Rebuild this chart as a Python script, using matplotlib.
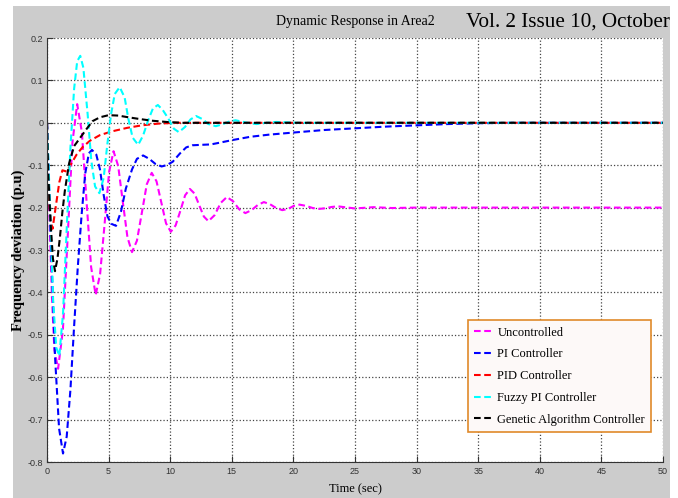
import matplotlib
matplotlib.use("Agg")
import matplotlib.pyplot as plt
from matplotlib.patches import Rectangle
from matplotlib.ticker import FuncFormatter

# === Data ===
t_unc = [0, 0.2, 0.4, 0.6, 0.9, 1.29, 1.68, 2.06, 2.45, 2.83, 3.2, 3.58, 3.95,
         4.31, 4.68, 5.04, 5.4, 5.78, 6.15, 6.53, 6.9, 7.3, 7.7, 8.1, 8.5,
         8.89, 9.28, 9.66, 10.05, 10.44, 10.83, 11.21, 11.6, 11.98, 12.35, 12.73,
         13.1, 13.6, 14.1, 14.6, 15.1, 15.6, 16.1, 16.6, 17.1, 17.6, 18.1, 18.6,
         19.1, 19.57, 20.03, 20.5, 21.03, 21.57, 22.1, 22.6, 23.1, 23.6, 25.0,
         26.5, 28.0, 30.0, 50.0]
v_unc = [0, -0.222, -0.41, -0.536, -0.58, -0.489, -0.268, -0.047, 0.044, -0.022,
         -0.181, -0.340, -0.406, -0.357, -0.237, -0.116, -0.067, -0.102, -0.186,
         -0.270, -0.305, -0.278, -0.212, -0.145, -0.118, -0.138, -0.188, -0.237,
         -0.257, -0.242, -0.207, -0.171, -0.156, -0.167, -0.194, -0.221, -0.232,
         -0.218, -0.189, -0.175, -0.185, -0.204, -0.213, -0.206, -0.194, -0.187,
         -0.192, -0.201, -0.206, -0.203, -0.196, -0.193, -0.196, -0.201, -0.203,
         -0.2015, -0.1985, -0.197, -0.202, -0.199, -0.201, -0.2, -0.2]

t_pi = [0, 0.33, 0.65, 0.98, 1.3, 1.6, 1.9, 2.2, 2.5, 2.8, 3.1, 3.4, 3.65, 4.0,
        4.3, 4.6, 4.9, 5.2, 5.6, 6.0, 6.4, 6.9, 7.3, 7.8, 8.3, 8.8, 9.3, 9.7,
        10.2, 10.8, 11.3, 11.8, 12.5, 13.3, 14.0, 15.0, 16.5, 18.0, 20.0, 22.5,
        25.0, 27.5, 30.0, 32.5, 35.0, 38.0, 50.0]
v_pi = [0, -0.298, -0.551, -0.721, -0.78, -0.74, -0.63, -0.48, -0.34, -0.22,
        -0.12, -0.072, -0.064, -0.075, -0.11, -0.17, -0.22, -0.238, -0.243,
        -0.21, -0.155, -0.11, -0.085, -0.077, -0.085, -0.097, -0.103, -0.1,
        -0.092, -0.072, -0.058, -0.053, -0.052, -0.051, -0.047, -0.041, -0.033,
        -0.028, -0.023, -0.017, -0.013, -0.009, -0.006, -0.003, -0.001, 0, 0]

t_pid = [0, 0.05, 0.15, 0.3, 0.45, 0.7, 1.0, 1.25, 1.6, 2.0, 2.4, 2.9, 3.5,
         4.3, 5.3, 6.5, 7.7, 9.0, 10.5, 50.0]
v_pid = [0, -0.1, -0.18, -0.23, -0.25, -0.2, -0.14, -0.112, -0.115, -0.095,
         -0.075, -0.057, -0.042, -0.029, -0.02, -0.012, -0.006, -0.002, 0, 0]

t_fuzzy = [0, 0.25, 0.5, 0.75, 1.0, 1.3, 1.6, 1.9, 2.2, 2.45, 2.7, 2.95, 3.3,
           3.6, 3.9, 4.25, 4.6, 4.9, 5.2, 5.5, 5.9, 6.3, 6.6, 6.95, 7.4, 7.8,
           8.2, 8.6, 9.0, 9.4, 9.85, 10.3, 10.7, 11.2, 11.65, 12.1, 12.6, 13.1,
           13.7, 14.2, 14.8, 15.3, 16.1, 17.0, 17.8, 18.6, 20.5, 50.0]
v_fuzzy = [0, -0.2, -0.42, -0.53, -0.55, -0.45, -0.25, -0.06, 0.08, 0.145,
           0.158, 0.13, 0.02, -0.09, -0.15, -0.166, -0.13, -0.05, 0.02, 0.068,
           0.084, 0.06, 0.01, -0.035, -0.052, -0.03, 0.005, 0.034, 0.042, 0.03,
           0.01, -0.014, -0.022, -0.01, 0.008, 0.016, 0.009, -0.003, -0.008,
           -0.004, 0.003, 0.006, 0.001, -0.003, 0.0, 0.002, 0, 0]

t_ga = [0, 0.1, 0.3, 0.48, 0.65, 0.85, 1.05, 1.25, 1.45, 1.8, 2.2, 2.7, 3.2,
        3.7, 4.3, 5.0, 5.8, 6.6, 7.5, 8.5, 9.7, 11.0, 50.0]
v_ga = [0, -0.12, -0.24, -0.32, -0.35, -0.32, -0.27, -0.21, -0.16, -0.095,
        -0.055, -0.035, -0.015, 0.004, 0.013, 0.018, 0.017, 0.013, 0.009,
        0.005, 0.002, 0.0, 0]

labels = ["Uncontrolled", "PI Controller", "PID Controller",
          "Fuzzy PI Controller", "Genetic Algorithm Controller"]
colors = ["#ff00ff", "#0000ff", "#ff0000", "#00ffff", "#000000"]

x_ticks = list(range(0, 51, 5))
y_ticks = [-0.8, -0.7, -0.6, -0.5, -0.4, -0.3, -0.2, -0.1, 0, 0.1, 0.2]

# === Figure ===
fig = plt.figure(figsize=(6.78, 4.98), dpi=100)
fig.patch.set_facecolor("white")
fig.patches.append(Rectangle((13 / 678, 0), 657 / 678, 492 / 498,
                             transform=fig.transFigure, facecolor="#cccccc",
                             edgecolor="none", zorder=-5))

ax = fig.add_axes([47 / 678, 36 / 498, 616 / 678, 424 / 498])
ax.set_facecolor("white")

series = [(t_unc, v_unc), (t_pi, v_pi), (t_pid, v_pid),
          (t_fuzzy, v_fuzzy), (t_ga, v_ga)]
for (tt, vv), lab, col in zip(series, labels, colors):
    ax.plot(tt, vv, linestyle="--", color=col, linewidth=1.5, label=lab,
            dashes=(3.2, 1.7))

ax.set_xlim(0, 50)
ax.set_ylim(-0.8, 0.2)
ax.set_xticks(x_ticks)
ax.set_yticks(y_ticks)
ax.yaxis.set_major_formatter(FuncFormatter(lambda v, p: "%g" % round(v, 2)))
ax.tick_params(direction="in", length=4, labelsize=6.5, colors="#333333",
               labelcolor="#333333")
ax.tick_params(axis="y", pad=2.5)
for lab in ax.get_xticklabels() + ax.get_yticklabels():
    lab.set_fontfamily("Liberation Sans")

ax.grid(True, linestyle=":", color="#444444", linewidth=0.9)
ax.spines["top"].set_visible(False)
ax.spines["right"].set_visible(False)
ax.spines["left"].set_color("#333333")
ax.spines["bottom"].set_color("#333333")

ax.set_xlabel("Time (sec)", fontfamily="Liberation Serif", fontsize=9,
              labelpad=5)
ax.set_ylabel("Frequency deviation (p.u)", fontfamily="Liberation Serif",
              fontsize=10.5, fontweight="bold")
ax.yaxis.set_label_coords(-0.036, 0.5)

fig.text(355 / 678, 1 - 22 / 498, "Dynamic Response in Area2",
         fontfamily="Liberation Serif", fontsize=10, ha="center", va="center")
fig.text(670 / 678, 1 - 22 / 498, "Vol. 2 Issue 10, October",
         fontfamily="Liberation Serif", fontsize=15.2, ha="right", va="center")

leg = ax.legend(loc="lower right", bbox_to_anchor=(0.981, 0.071),
                borderaxespad=0, prop={"family": "Liberation Serif", "size": 9},
                fancybox=False, edgecolor="#e08a2a", facecolor="#fdf9f8",
                framealpha=1, handlelength=1.5, handletextpad=0.35,
                labelspacing=0.78, borderpad=0.5)
leg.get_frame().set_linewidth(1.2)

fig.savefig("out.png", dpi=100)
